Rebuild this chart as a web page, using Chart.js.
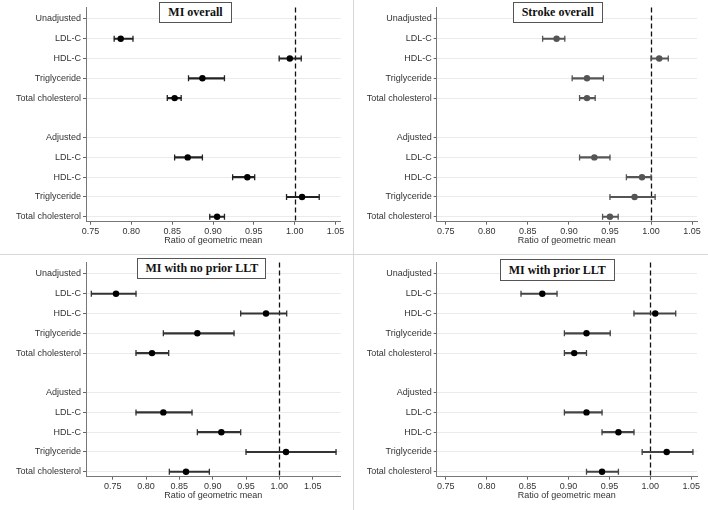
<!DOCTYPE html>
<html>
<head>
<meta charset="utf-8">
<script src="https://cdn.jsdelivr.net/npm/chart.js@4/dist/chart.umd.min.js"></script>
<style>
  html,body{margin:0;padding:0;background:#fff;}
  body{width:708px;height:510px;position:relative;overflow:hidden;}
  .panel{position:absolute;width:354px;height:255px;}
  .panel canvas{position:absolute;left:0;top:0;}
  .ttl{position:absolute;box-sizing:border-box;background:#fff;border:1px solid #555;
       font:bold 12px "Liberation Serif","Times New Roman",serif;color:#111;
       text-align:center;display:flex;align-items:center;justify-content:center;white-space:nowrap;}
  .vsep{position:absolute;left:353px;top:0;width:1px;height:510px;background:#d6d6d6;}
  .hsep{position:absolute;left:0;top:254px;width:708px;height:1px;background:#d6d6d6;}
</style>
</head>
<body>
<div class="vsep"></div>
<div class="hsep"></div>
<script>
// ---------------- data ----------------
const rowLabels = ['Unadjusted','LDL-C','HDL-C','Triglyceride','Total cholesterol','',
                   'Adjusted','LDL-C','HDL-C','Triglyceride','Total cholesterol'];
const labelRows = [0,1,2,3,4,6,7,8,9,10];
const measureRows = [1,2,3,4,7,8,9,10];
const xTicks = [0.75,0.80,0.85,0.90,0.95,1.00,1.05];
const refValue = 1.0;
const panelTitles = ['MI overall','Stroke overall','MI with no prior LLT','MI with prior LLT'];
const axisTitle = 'Ratio of geometric mean';

const miOverallEst = [0.787,0.994,0.887,0.853, 0.869,0.942,1.009,0.905];
const miOverallLo  = [0.779,0.981,0.870,0.844, 0.853,0.924,0.990,0.896];
const miOverallHi  = [0.802,1.008,0.914,0.861, 0.887,0.951,1.030,0.914];

const strokeEst = [0.885,1.010,0.922,0.922, 0.931,0.989,0.980,0.950];
const strokeLo  = [0.868,1.000,0.904,0.913, 0.913,0.970,0.950,0.941];
const strokeHi  = [0.895,1.021,0.942,0.932, 0.950,1.000,1.005,0.960];

const miNoLltEst = [0.755,0.980,0.877,0.809, 0.826,0.913,1.010,0.860];
const miNoLltLo  = [0.718,0.942,0.826,0.785, 0.785,0.877,0.950,0.835];
const miNoLltHi  = [0.785,1.011,0.932,0.834, 0.869,0.942,1.085,0.895];

const miLltEst = [0.868,1.006,0.922,0.907, 0.922,0.961,1.020,0.941];
const miLltLo  = [0.842,0.980,0.895,0.895, 0.895,0.941,0.990,0.922];
const miLltHi  = [0.886,1.031,0.951,0.922, 0.941,0.980,1.052,0.961];

// ---------------- layout / style ----------------
const panels = [
  {est:miOverallEst, lo:miOverallLo, hi:miOverallHi, left:0,   top:0,   xmin:0.7445, xmax:1.0563,
   axisW:86,   padR:13.3, pt:'#000', ln:'#222', box:{l:159,   t:2, w:73,  h:21}},
  {est:strokeEst,    lo:strokeLo,    hi:strokeHi,    left:354, top:0,   xmin:0.739,  xmax:1.056,
   axisW:82.7, padR:11,   pt:'#555', ln:'#555', box:{l:158.7, t:2, w:90,  h:21}},
  {est:miNoLltEst,   lo:miNoLltLo,   hi:miNoLltHi,   left:0,   top:255, xmin:0.710,  xmax:1.092,
   axisW:86,   padR:13.3, pt:'#000', ln:'#333', box:{l:137.3, t:3, w:129, h:21}},
  {est:miLltEst,     lo:miLltLo,     hi:miLltHi,     left:354, top:255, xmin:0.739,  xmax:1.057,
   axisW:82.7, padR:11,   pt:'#000', ln:'#444', box:{l:145.7, t:4, w:115, h:22}}
];

const refLine = {
  id:'refLine',
  beforeDatasetsDraw(chart){
    const {ctx, chartArea:a, scales:{x}} = chart;
    const px = Math.round(x.getPixelForValue(refValue)) + 0.5;
    ctx.save();
    ctx.setLineDash([5,3]);
    ctx.strokeStyle = '#111';
    ctx.lineWidth = 1.3;
    ctx.beginPath();
    ctx.moveTo(px, a.top);
    ctx.lineTo(px, a.bottom);
    ctx.stroke();
    ctx.restore();
  }
};

const tickFont = {family:'"Liberation Sans", Arial, sans-serif', size:9};

panels.forEach((p, k) => {
  const div = document.createElement('div');
  div.className = 'panel';
  div.style.left = p.left + 'px';
  div.style.top = p.top + 'px';
  const cv = document.createElement('canvas');
  cv.width = 354; cv.height = 255;
  cv.style.width = '354px'; cv.style.height = '255px';
  div.appendChild(cv);
  const t = document.createElement('div');
  t.className = 'ttl';
  t.style.left = p.box.l + 'px'; t.style.top = p.box.t + 'px';
  t.style.width = p.box.w + 'px'; t.style.height = p.box.h + 'px';
  t.textContent = panelTitles[k];
  div.appendChild(t);
  document.body.appendChild(div);

  const ciData = measureRows.map((r,i) => ({y:r, x:[p.lo[i], p.hi[i]]}));
  const capData = [];
  measureRows.forEach((r,i) => { capData.push({x:p.lo[i], y:r}); capData.push({x:p.hi[i], y:r}); });
  const estData = measureRows.map((r,i) => ({x:p.est[i], y:r}));

  new Chart(cv, {
    type:'scatter',
    data:{datasets:[
      {type:'bar', indexAxis:'y', data:ciData, backgroundColor:p.ln, borderWidth:0,
       barThickness:1.5, order:3},
      {type:'scatter', data:capData, pointStyle:'line', rotation:90, pointRadius:3,
       borderColor:p.ln, borderWidth:1.3, order:2},
      {type:'scatter', data:estData, pointStyle:'circle', pointRadius:3.2,
       backgroundColor:p.pt, borderColor:p.pt, borderWidth:0, order:1}
    ]},
    options:{
      responsive:false, animation:false, devicePixelRatio:1,
      layout:{padding:{top:5, right:p.padR, left:0, bottom:0}},
      plugins:{legend:{display:false}, tooltip:{enabled:false}},
      scales:{
        x:{type:'linear', min:p.xmin, max:p.xmax, offset:false,
           afterBuildTicks:s => { s.ticks = xTicks.map(v => ({value:v})); },
           afterFit:s => { s.height = 33.3; },
           ticks:{callback:v => Number(v).toFixed(2), font:tickFont, color:'#333',
                  padding:1, maxRotation:0, autoSkip:false},
           grid:{drawOnChartArea:false, tickLength:3, tickColor:'#666', offset:false},
           border:{color:'#777', width:1},
           title:{display:true, text:axisTitle, font:tickFont, color:'#333',
                  padding:{top:0, bottom:9}}},
        y:{type:'linear', reverse:true, min:-0.585, max:10.25, offset:false,
           afterBuildTicks:s => { s.ticks = labelRows.map(v => ({value:v})); },
           afterFit:s => { s.width = p.axisW; },
           ticks:{callback:v => rowLabels[v], font:tickFont, color:'#333',
                  padding:2, autoSkip:false},
           grid:{color:'#ebebeb', tickLength:3, tickColor:'#666', offset:false},
           border:{color:'#777', width:1}}
      }
    },
    plugins:[refLine]
  });
});
</script>
</body>
</html>
